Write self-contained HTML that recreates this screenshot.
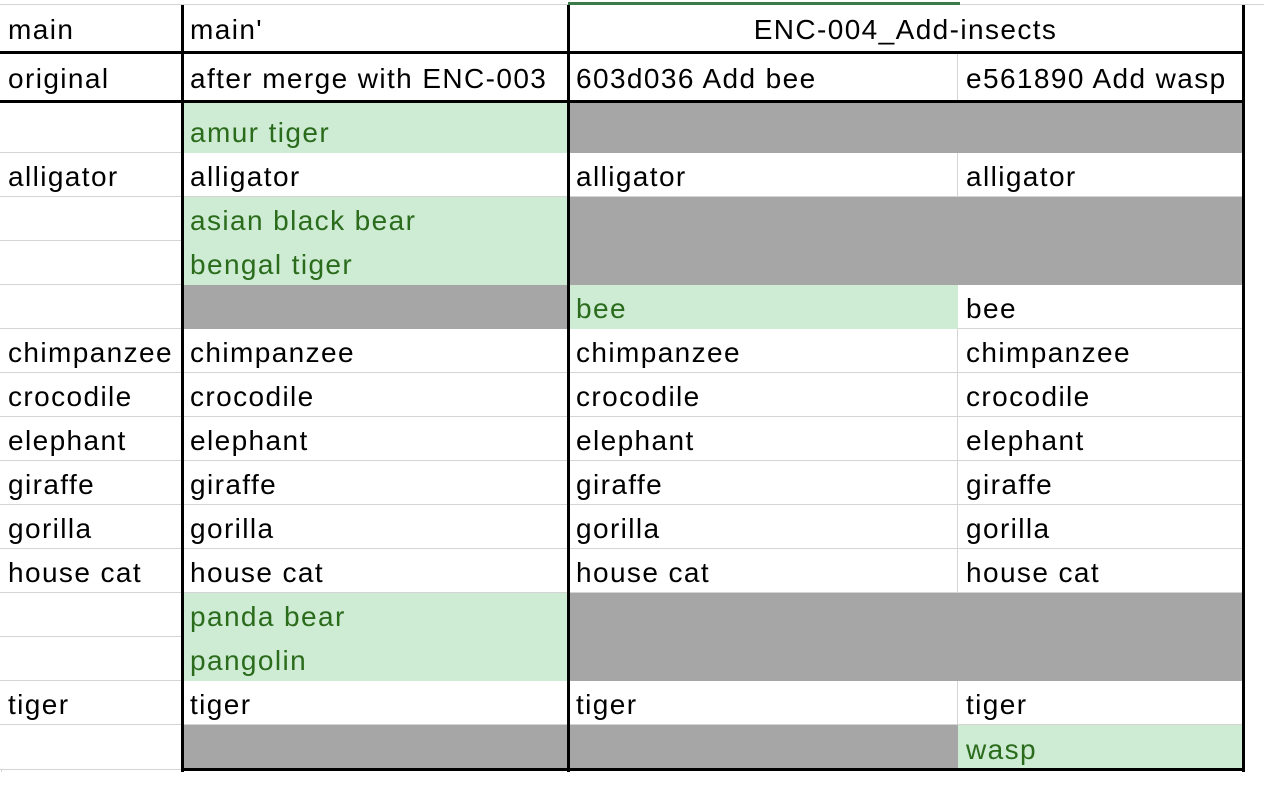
<!DOCTYPE html>
<html><head><meta charset="utf-8"><style>
body{margin:0;width:1264px;height:792px;background:#fff;overflow:hidden;position:relative;font-family:"Liberation Sans",sans-serif;}
.c{position:absolute;box-sizing:border-box;font-size:28px;letter-spacing:1.4px;color:#000;padding-left:8px;padding-top:4px;white-space:nowrap;display:flex;align-items:center;}
.g{background:#a6a6a6}
.n{background:#ceebd3;color:#2a6b1c}
.w{background:#fff;border-right:1px solid #d4d4d4;border-bottom:1px solid #d4d4d4}
.l{position:absolute;background:#000}
</style></head><body>
<div style="position:absolute;left:0;top:4px;width:1264px;height:1px;background:#d4d4d4"></div>
<div style="position:absolute;left:568px;top:2px;width:392px;height:3px;background:#3d7a4a"></div>
<div style="position:absolute;left:1px;top:4px;width:1px;height:768px;background:#d4d4d4"></div>
<div id="grid"></div>
<script>
const cols=[0,182,568,958,1244];
const rows=[5,52,102,153,197,241,285,329,373,417,461,505,549,593,637,681,725,770];
const colA=["main","original","","alligator","","","","chimpanzee","crocodile","elephant","giraffe","gorilla","house cat","","","tiger",""];
const colB=["main'","after merge with ENC-003","amur tiger","alligator","asian black bear","bengal tiger","","chimpanzee","crocodile","elephant","giraffe","gorilla","house cat","panda bear","pangolin","tiger",""];
const colC=["","603d036 Add bee","","alligator","","","bee","chimpanzee","crocodile","elephant","giraffe","gorilla","house cat","","","tiger",""];
const colD=["","e561890 Add wasp","","alligator","","","bee","chimpanzee","crocodile","elephant","giraffe","gorilla","house cat","","","tiger","wasp"];
// style codes: w=white, g=gray, n=green
const styB="wwnwnngwwwwwwnnwg";
const styC="wwgwggnwwwwwwggwg";
const styD="wwgwggwwwwwwwggwn";
const grid=document.getElementById('grid');
const data=[colA,colB,colC,colD];
const sty=["wwwwwwwwwwwwwwwww",styB,styC,styD];
for(let r=0;r<rows.length-1;r++){
  for(let c=0;c<4;c++){
    if(r===0&&c===3)continue;
    const d=document.createElement('div');
    
    
    const s=sty[c][r];
    d.className='c '+s;
    let x0=cols[c],x1=cols[c+1];
    if(r===0&&c===2){x1=cols[4];d.style.justifyContent='center';d.style.paddingLeft='0';}
    d.style.left=x0+'px';d.style.width=(x1-x0)+'px';
    d.style.top=rows[r]+'px';d.style.height=(rows[r+1]-rows[r])+'px';
    if(r===2){d.style.alignItems='flex-end';d.style.paddingBottom='4px';}
    d.textContent=(r===0&&c===2)?"ENC-004_Add-insects":data[c][r];
    grid.appendChild(d);
  }
}
const lines=[[181,5,3,767],[567,5,3,767],[1242,5,3,767],[0,51,1245,3],[0,100,1245,3],[182,768,1063,3]];
lines.forEach((L,i)=>{
  const e=document.createElement('div');
  
  
  e.className='l';
  e.style.left=L[0]+'px';e.style.top=L[1]+'px';e.style.width=L[2]+'px';e.style.height=L[3]+'px';
  grid.appendChild(e);
});
</script>
</body></html>
